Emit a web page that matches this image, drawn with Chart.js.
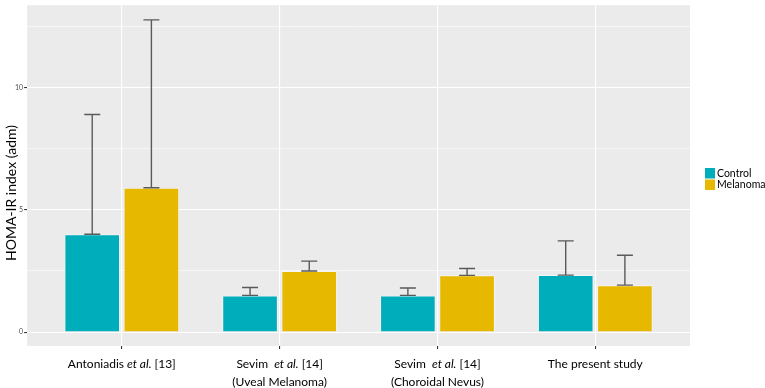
<!DOCTYPE html>
<html>
<head>
<meta charset="utf-8">
<script src="https://cdn.jsdelivr.net/npm/chart.js@4"></script>
<style>
  body { margin: 0; background: #fff; }
  #wrap { width: 765px; height: 388px; }
</style>
</head>
<body>
<div id="wrap"><canvas id="homaChart"></canvas></div>
<script>
// Data
const categories = [
  ["Antoniadis et al. [13]"],
  ["Sevim  et al. [14]", "(Uveal Melanoma)"],
  ["Sevim  et al. [14]", "(Choroidal Nevus)"],
  ["The present study"]
];
const seriesNames = ["Control", "Melanoma"];
const controlMeans = [4.0, 1.5, 1.5, 2.33];
const controlUpper = [8.9, 1.82, 1.8, 3.73];
const melanomaMeans = [5.9, 2.5, 2.32, 1.92];
const melanomaUpper = [12.77, 2.9, 2.6, 3.14];
const yTicks = [0, 2.5, 5, 7.5, 10, 12.5];
const yLabelTicks = [0, 5, 10];

const FONT = "Lato, 'Open Sans', sans-serif";

function toPoints(values) {
  return values.map((v, i) => ({ x: i, y: v }));
}

// gray panel like ggplot
const panelBg = {
  id: "panelBg",
  beforeDraw(chart) {
    const a = chart.chartArea;
    const ctx = chart.ctx;
    ctx.save();
    ctx.fillStyle = "#EBEBEB";
    ctx.fillRect(a.left, a.top, a.right - a.left, a.bottom - a.top);
    ctx.restore();
  }
};

// error bars (mean to mean + SD)
const errorBars = {
  id: "errorBars",
  afterDatasetsDraw(chart) {
    const ctx = chart.ctx;
    const yScale = chart.scales.y;
    ctx.save();
    ctx.strokeStyle = "#5a5a5a";
    ctx.lineWidth = 1.4;
    chart.data.datasets.forEach((ds, di) => {
      const meta = chart.getDatasetMeta(di);
      meta.data.forEach((bar, i) => {
        const yTop = yScale.getPixelForValue(ds.upper[i]);
        const yBase = bar.y;
        const half = 8;
        ctx.beginPath();
        ctx.moveTo(bar.x, yBase);
        ctx.lineTo(bar.x, yTop);
        ctx.moveTo(bar.x - half, yTop);
        ctx.lineTo(bar.x + half, yTop);
        ctx.moveTo(bar.x - half, yBase);
        ctx.lineTo(bar.x + half, yBase);
        ctx.stroke();
      });
    });
    ctx.restore();
  }
};

// x labels with italic "et al."
const xLabels = {
  id: "xLabels",
  afterDraw(chart) {
    const ctx = chart.ctx;
    const xScale = chart.scales.x;
    const base = chart.chartArea.bottom;
    ctx.save();
    ctx.fillStyle = "#000";
    ctx.textBaseline = "middle";
    categories.forEach((lines, i) => {
      const cx = xScale.getPixelForValue(i);
      lines.forEach((line, li) => {
        const y = base + 18 + li * 18;
        const parts = line.split(/(et al\.)/);
        const fonts = parts.map(p => (p === "et al." ? "italic " : "") + "12px " + FONT);
        let total = 0;
        parts.forEach((p, k) => { ctx.font = fonts[k]; total += ctx.measureText(p).width; });
        let x = cx - total / 2;
        ctx.textAlign = "left";
        parts.forEach((p, k) => {
          ctx.font = fonts[k];
          ctx.fillText(p, x, y);
          x += ctx.measureText(p).width;
        });
      });
    });
    // y axis title
    ctx.translate(11, 193);
    ctx.rotate(-Math.PI / 2);
    ctx.textAlign = "center";
    ctx.font = "14px " + FONT;
    ctx.fillText("HOMA-IR index (adm)", 0, 0);
    ctx.restore();
  }
};

// legend on the right
const sideLegend = {
  id: "sideLegend",
  afterDraw(chart) {
    const ctx = chart.ctx;
    ctx.save();
    ctx.font = "10.5px " + FONT;
    ctx.textBaseline = "middle";
    ctx.textAlign = "left";
    chart.data.datasets.forEach((ds, i) => {
      const top = 168 + i * 11.5;
      ctx.fillStyle = ds.backgroundColor;
      ctx.fillRect(705, top, 10, 10.5);
      ctx.fillStyle = "#000";
      ctx.fillText(ds.label, 717, top + 5.5);
    });
    ctx.restore();
  }
};

const ctx = document.getElementById("homaChart").getContext("2d");
new Chart(ctx, {
  type: "bar",
  data: {
    datasets: [
      {
        label: seriesNames[0],
        data: toPoints(controlMeans),
        upper: controlUpper,
        backgroundColor: "#00ADBA",
        borderColor: "rgba(255,255,255,0.5)",
        borderWidth: 1
      },
      {
        label: seriesNames[1],
        data: toPoints(melanomaMeans),
        upper: melanomaUpper,
        backgroundColor: "#E7B800",
        borderColor: "rgba(255,255,255,0.5)",
        borderWidth: 1
      }
    ]
  },
  options: {
    responsive: true,
    maintainAspectRatio: false,
    animation: false,
    categoryPercentage: 0.75,
    barPercentage: 0.94,
    layout: { padding: { left: 14, right: 75, top: 2, bottom: 39 } },
    plugins: {
      legend: { display: false },
      tooltip: { enabled: false }
    },
    scales: {
      x: {
        type: "linear",
        offset: false,
        min: -0.6,
        max: 3.6,
        afterBuildTicks: (scale) => {
          scale.ticks = categories.map((c, i) => ({ value: i }));
        },
        ticks: { display: false },
        grid: { offset: false, color: "#fff", lineWidth: 1.1, tickLength: 3, tickColor: "#333" },
        border: { display: false }
      },
      y: {
        min: -0.57,
        max: 13.37,
        afterBuildTicks: (scale) => {
          scale.ticks = yTicks.map(v => ({ value: v }));
        },
        ticks: {
          font: { size: 7, family: FONT },
          color: "#4D4D4D",
          padding: 1,
          callback: (v) => (yLabelTicks.includes(v) ? v : "")
        },
        grid: {
          color: "#fff",
          lineWidth: (c) => (c.tick && yLabelTicks.includes(c.tick.value) ? 1.1 : 0.55),
          tickLength: 3,
          tickColor: (c) => (c.tick && yLabelTicks.includes(c.tick.value) ? "#333" : "rgba(0,0,0,0)")
        },
        border: { display: false }
      }
    }
  },
  plugins: [panelBg, errorBars, xLabels, sideLegend]
});
</script>
</body>
</html>
